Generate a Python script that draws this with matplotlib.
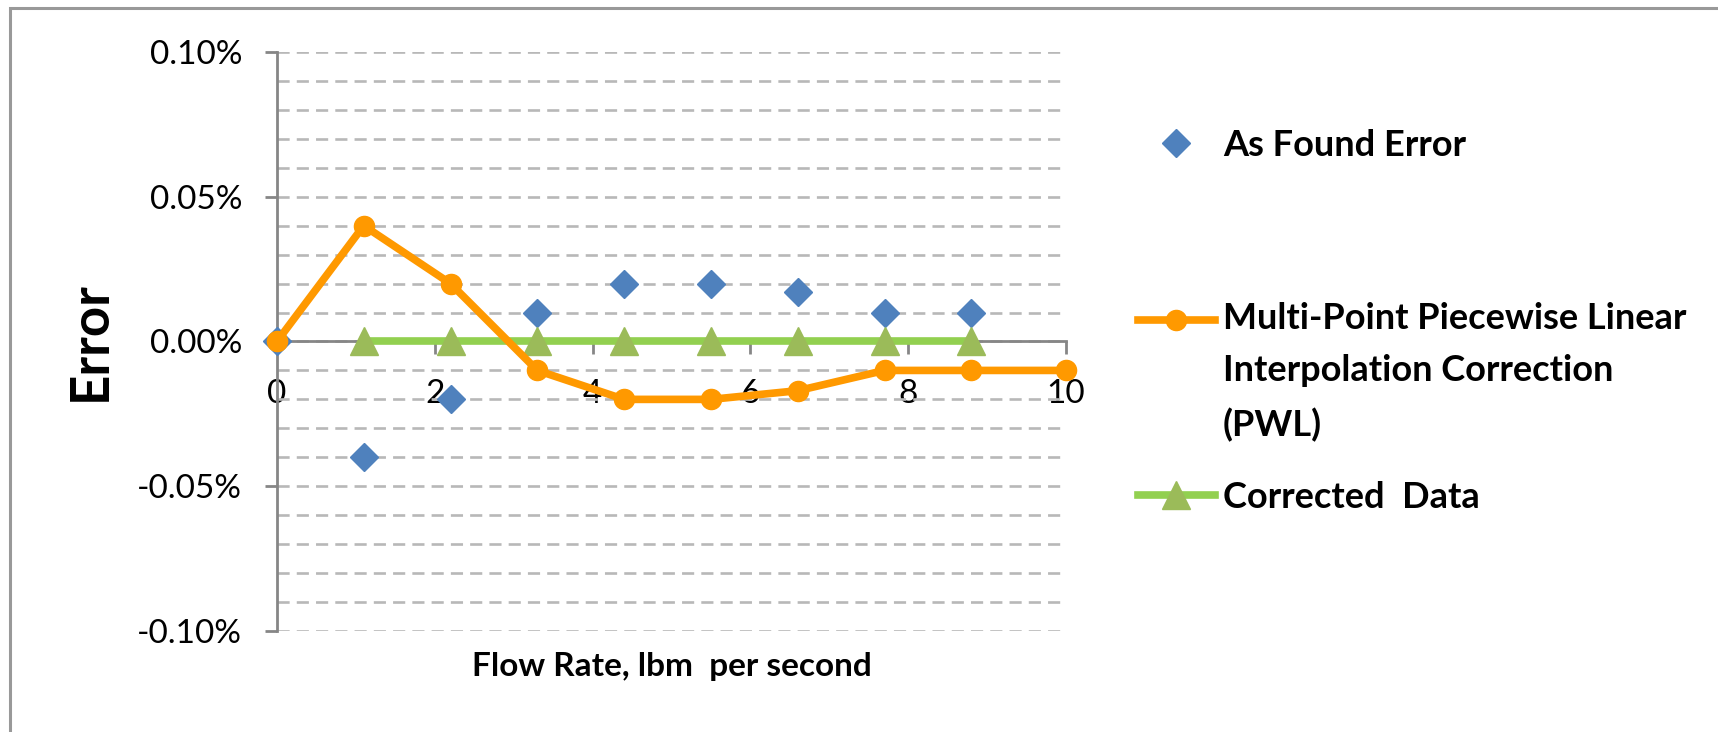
import matplotlib
matplotlib.use("Agg")
import matplotlib.pyplot as plt
from matplotlib.ticker import MultipleLocator, FuncFormatter
from matplotlib.legend_handler import HandlerLine2D
from matplotlib.patches import Rectangle
import numpy as np

plt.rcParams['font.family'] = ['Lato', 'DejaVu Sans']

# flow rate (lbm/s) and error values in percent
flow_rate = [0, 1.1, 2.2, 3.3, 4.4, 5.5, 6.6, 7.7, 8.8, 10.0]
found_flow = [0, 1.1, 2.2, 3.3, 4.4, 5.5, 6.6, 7.7, 8.8]
as_found_error = [0.0, -0.04, -0.02, 0.01, 0.02, 0.02, 0.017, 0.01, 0.01]
pwl_correction = [0.0, 0.04, 0.02, -0.01, -0.02, -0.02, -0.017, -0.01, -0.01, -0.01]
corrected_flow = [1.1, 2.2, 3.3, 4.4, 5.5, 6.6, 7.7, 8.8]
corrected_error = [0.0, 0.0, 0.0, 0.0, 0.0, 0.0, 0.0, 0.0]

x_ticks = [0, 2, 4, 6, 8, 10]
y_ticks = [-0.10, -0.05, 0.0, 0.05, 0.10]

label_found = "As Found Error"
label_pwl = "Multi-Point Piecewise Linear\nInterpolation Correction\n(PWL)"
label_corr = "Corrected  Data"

axis_grey = "#868686"
grid_grey = "#B8B8B8"


class FirstLineHandler(HandlerLine2D):
    # moves the handle up so it sits next to the first line of a multi-line label
    def __init__(self, shift, **kw):
        super().__init__(**kw)
        self.shift = shift

    def create_artists(self, legend, orig_handle, xdescent, ydescent,
                       width, height, fontsize, trans):
        arts = super().create_artists(legend, orig_handle, xdescent, ydescent,
                                      width, height, fontsize, trans)
        for a in arts:
            a.set_ydata(np.asarray(a.get_ydata(), dtype=float) + self.shift)
        return arts


fig = plt.figure(figsize=(17.18, 7.32), dpi=100)
ax = fig.add_axes([0.1612, 0.1380, 0.4593, 0.7910])

found_line, = ax.plot(found_flow, as_found_error, linestyle='none', marker='D',
                      ms=14, color='#4F81BD', zorder=3, clip_on=False)
corr_line, = ax.plot(corrected_flow, corrected_error, color='#92D050', lw=5.5,
                     marker='^', ms=20, mfc='#9BBB59', mec='#9BBB59',
                     zorder=4, clip_on=False)
pwl_line, = ax.plot(flow_rate, pwl_correction, color='#FF9900', lw=5.5,
                    marker='o', ms=14.5, zorder=5, clip_on=False)

ax.set_xlim(0, 10)
ax.set_ylim(-0.10, 0.10)
ax.set_xticks(x_ticks)
ax.set_yticks(y_ticks)
ax.yaxis.set_minor_locator(MultipleLocator(0.01))
ax.yaxis.set_major_formatter(FuncFormatter(lambda v, p: "%.2f%%" % v))

for s in ['top', 'right']:
    ax.spines[s].set_visible(False)
ax.spines['bottom'].set_position(('data', 0))
for s in ['left', 'bottom']:
    ax.spines[s].set_color(axis_grey)
    ax.spines[s].set_linewidth(2)

ax.tick_params(axis='y', which='major', direction='out', length=9, width=2,
               color=axis_grey, labelsize=24, pad=16)
ax.tick_params(axis='y', which='minor', length=0)
ax.tick_params(axis='x', direction='out', length=9, width=2,
               color=axis_grey, labelsize=24, pad=18)

ax.set_axisbelow(True)
ax.grid(axis='y', which='both', color=grid_grey, lw=1.9, ls=(0, (4.6, 2.7)))
ax.grid(axis='x', visible=False)

ax.set_ylabel("Error", fontsize=38, fontweight='bold', va='center')
ax.yaxis.set_label_coords(-0.236, 0.5)
ax.set_xlabel("Flow Rate, lbm  per second", fontsize=24, fontweight='bold', va='center')
ax.xaxis.set_label_coords(0.5, -0.062)

leg_kw = dict(frameon=False, borderpad=0, borderaxespad=0, handlelength=2.13,
              handletextpad=0.22, numpoints=1, loc='center left',
              prop={'weight': 'bold', 'size': 26})
leg_x = 1138 / 1718
leg1 = fig.legend([found_line], [label_found], bbox_to_anchor=(leg_x, 1 - 145 / 732), **leg_kw)
leg2 = fig.legend([pwl_line], [label_pwl], bbox_to_anchor=(leg_x, 1 - 372 / 732),
                  handler_map={pwl_line: FirstLineHandler(37.8)}, **leg_kw)
leg2.get_texts()[0].set_linespacing(1.73)
leg3 = fig.legend([corr_line], [label_corr], bbox_to_anchor=(leg_x, 1 - 497 / 732), **leg_kw)

# outer frame line along the top and left edges
fig.patches.append(Rectangle((10 / 1718, -0.5), 2.0, 0.5 + 1 - 8 / 732,
                             transform=fig.transFigure, fill=False,
                             edgecolor='#999999', lw=2.2))

fig.savefig("out.png", dpi=100)
